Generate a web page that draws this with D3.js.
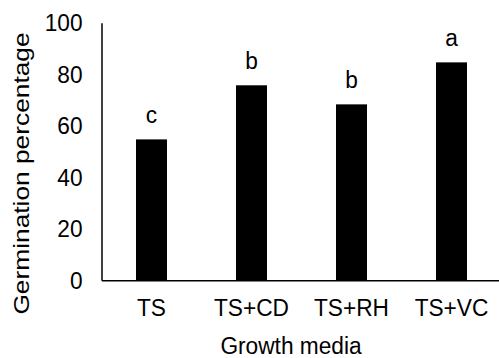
<!DOCTYPE html>
<html>
<head>
<meta charset="utf-8">
<script src="https://cdn.jsdelivr.net/npm/d3@7"></script>
<style>
  html, body { margin: 0; padding: 0; background: #fff; }
  svg text { font-family: "Liberation Sans", Arial, sans-serif; fill: #000; }
</style>
</head>
<body>
<svg id="chart" width="499" height="358"></svg>
<script>
// Germination percentage by growth medium
const categories = ["TS", "TS+CD", "TS+RH", "TS+VC"];
const germination = [54.7, 75.7, 68.3, 84.6];
const groupLetters = ["c", "b", "b", "a"];
const yTicks = [0, 20, 40, 60, 80, 100];

const FONT = 22.7;      // label font size
const STRETCH = 1.08;   // slight vertical stretch of the glyphs

const svg = d3.select("#chart");

const plot = { left: 101.5, right: 501.5, top: 22.7, bottom: 280.3 };

const x = d3.scaleBand()
  .domain(categories)
  .range([plot.left, plot.right])
  .paddingInner(0.69)
  .paddingOuter(0.345);

const y = d3.scaleLinear()
  .domain([0, 100])
  .range([plot.bottom, plot.top]);

// Stretched text anchored at (px, py) baseline
function label(parent, px, py, str, anchor) {
  parent.append("text")
    .attr("transform", `translate(${px},${py}) scale(1,${STRETCH})`)
    .attr("text-anchor", anchor || "middle")
    .style("font-size", FONT + "px")
    .text(str);
}

// Bars
svg.append("g")
  .selectAll("rect")
  .data(categories)
  .join("rect")
  .attr("x", d => x(d))
  .attr("width", x.bandwidth())
  .attr("y", (d, i) => y(germination[i]))
  .attr("height", (d, i) => y(0) - y(germination[i]))
  .attr("fill", "#000");

// Significance letters above bars
const letters = svg.append("g");
categories.forEach((c, i) => {
  label(letters, x(c) + x.bandwidth() / 2, y(germination[i]) - 16.5, groupLetters[i]);
});

// Y axis
const yAxis = svg.append("g")
  .attr("transform", `translate(${plot.left},0)`)
  .call(d3.axisLeft(y).tickValues(yTicks).tickSize(0).tickPadding(19));
yAxis.select(".domain").attr("stroke", "#000").attr("stroke-width", 1.5);
yAxis.selectAll("text")
  .style("font-size", FONT + "px")
  .attr("fill", "#000")
  .attr("transform", `scale(1,${STRETCH})`);

// X axis
const xAxis = svg.append("g")
  .attr("transform", `translate(0,${plot.bottom})`)
  .call(d3.axisBottom(x).tickSize(0).tickPadding(0));
xAxis.select(".domain").attr("stroke", "#000").attr("stroke-width", 1.5);
xAxis.selectAll("text")
  .style("font-size", FONT + "px")
  .attr("fill", "#000")
  .attr("dy", null)
  .attr("y", 36 / STRETCH)
  .attr("transform", `scale(1,${STRETCH})`);

// Axis titles
label(svg, 291, 353.5, "Growth media");

svg.append("text")
  .attr("transform", "translate(28.5,173.5) rotate(-90) scale(1.17,1)")
  .attr("text-anchor", "middle")
  .style("font-size", "22.5px")
  .text("Germination percentage");
</script>
</body>
</html>
